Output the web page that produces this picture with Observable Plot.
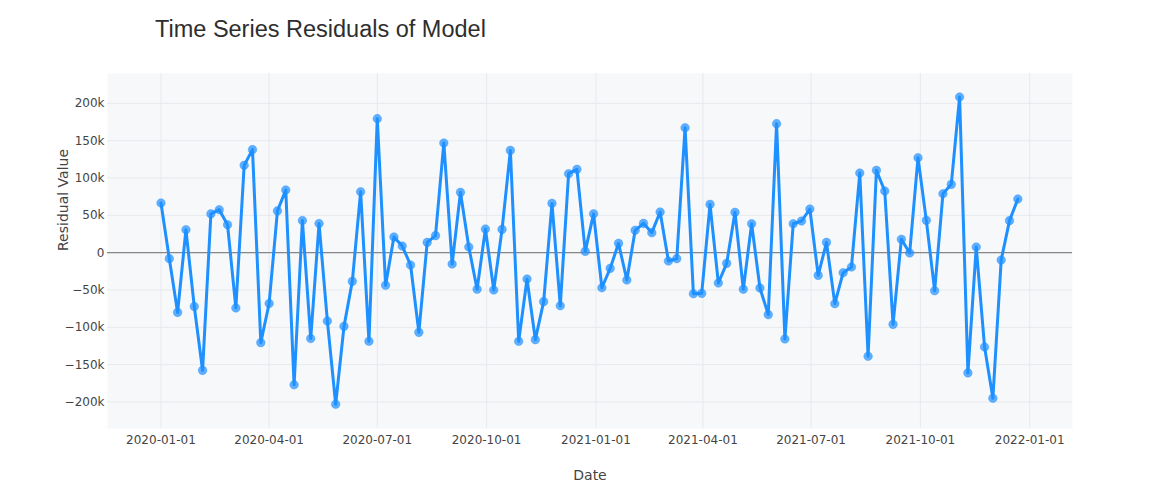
<!DOCTYPE html>
<html>
<head>
<meta charset="utf-8">
<script src="https://cdn.jsdelivr.net/npm/d3@7"></script>
<script src="https://cdn.jsdelivr.net/npm/@observablehq/plot@0.6"></script>
<style>
  html, body { margin: 0; padding: 0; background: #fff; }
  #wrap { position: relative; width: 1166px; height: 500px; }
  #title { position: absolute; left: 155px; top: 16px; font-family: "Liberation Sans", Arial, sans-serif; font-size: 23.5px; line-height: 26px; color: #2e2e2e; white-space: nowrap; }
  #chart { position: absolute; left: 0; top: 60px; }
</style>
</head>
<body>
<div id="wrap">
  <div id="title">Time Series Residuals of Model</div>
  <div id="chart"></div>
</div>
<script>
// Weekly residuals starting 2020-01-01 (values in thousands)
const startDate = "2020-01-01";
const residualsK = [
  66.5, -8, -80, 30.8, -72, -157.6, 52, 57.6, 37.5, -74,
  117, 138, -120.5, -68, 56, 84, -177, 43, -115, 39,
  -91.5, -203, -98.7, -38.4, 81.7, -118.7, 179.5, -43.7, 21, 8.9,
  -16.5, -106.7, 13.8, 22.8, 146.9, -15.2, 80.8, 7.6, -49, 31.7,
  -50, 31.2, 137, -118.7, -35.3, -116.5, -65.6, 66, -71, 105.8,
  111.6, 1.8, 52, -47, -21, 12.5, -36.6, 30, 39.3, 26.8,
  54.5, -11.2, -8, 167.4, -55, -54.5, 64.7, -40.6, -14.3, 54,
  -49, 38.8, -47.3, -83, 172.8, -115.6, 38.8, 42.4, 58.5, -30.4,
  13.8, -68.3, -26.8, -19.2, 106.7, -138.8, 110.3, 82.6, -96, 17.9,
  -0.4, 127.2, 43.3, -50.9, 79, 91.5, 208.5, -161, 7.6, -126.3,
  -195, -9.8, 42.9, 71.9
];
const xTickLabels = ["2020-01-01","2020-04-01","2020-07-01","2020-10-01","2021-01-01","2021-04-01","2021-07-01","2021-10-01","2022-01-01"];
const yTickValues = [-200000, -150000, -100000, -50000, 0, 50000, 100000, 150000, 200000];

const start = new Date(startDate + "T00:00:00Z");
const data = residualsK.map((v, i) => ({ date: d3.utcDay.offset(start, 7 * i), value: v * 1000 }));
const xTicks = xTickLabels.map(s => new Date(s + "T00:00:00Z"));

const plot = Plot.plot({
  width: 1166,
  height: 440,
  marginLeft: 107,
  marginRight: 94,
  marginTop: 13,
  marginBottom: 72,
  style: { fontFamily: "'DejaVu Sans', Verdana, sans-serif", fontSize: "12px", color: "#444", background: "transparent" },
  x: { type: "utc", domain: [new Date("2019-11-17T00:00:00Z"), new Date("2022-02-06T00:00:00Z")], label: null },
  y: { domain: [-235500, 240000], label: null },
  marks: [
    Plot.frame({ fill: "#f7f8fa", stroke: null }),
    Plot.gridX(xTicks, { stroke: "#e6e9ee", strokeOpacity: 1, strokeWidth: 1 }),
    Plot.gridY(yTickValues, { stroke: "#e6e9ee", strokeOpacity: 1, strokeWidth: 1 }),
    Plot.ruleY([0], { stroke: "#888", strokeWidth: 1.3 }),
    Plot.axisX(xTicks, { tickSize: 0, tickPadding: 7, tickFormat: d3.utcFormat("%Y-%m-%d"), label: null, fill: "#444" }),
    Plot.axisY(yTickValues, { tickSize: 0, tickPadding: 3, tickFormat: d3.format("~s"), label: null, fill: "#444" }),
    Plot.line(data, { x: "date", y: "value", stroke: "#1e90ff", strokeWidth: 3, curve: "linear" }),
    Plot.dot(data, { x: "date", y: "value", r: 4.3, fill: "#1e90ff", fillOpacity: 0.7, stroke: "#1e90ff", strokeOpacity: 0.35, strokeWidth: 1 }),
    Plot.text(["Date"], { frameAnchor: "bottom", dy: 51, fontSize: 14, fill: "#444" }),
    Plot.text(["Residual Value"], { frameAnchor: "left", dx: -44, rotate: -90, fontSize: 14, fill: "#444" })
  ]
});
document.getElementById("chart").appendChild(plot);
</script>
</body>
</html>
